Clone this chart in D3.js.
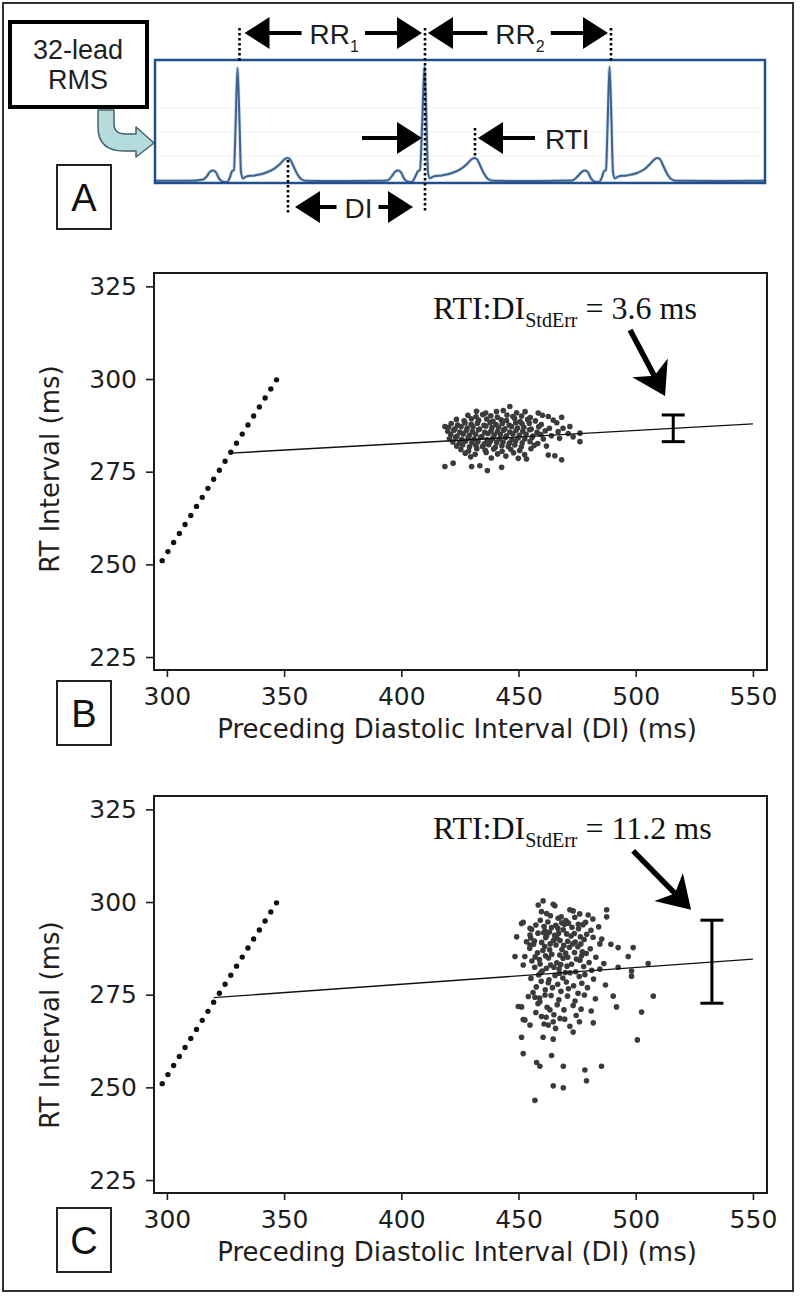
<!DOCTYPE html>
<html>
<head>
<meta charset="utf-8">
<script src="https://d3js.org/d3.v7.min.js"></script>
<style>
  body { margin: 0; background: #fff; }
  svg { display: block; }
</style>
</head>
<body>
<script>
// ---------- data ----------
// panel A: 32-lead RMS trace (time in ms, amplitude normalised)
var ecgTime = [0, 140, 192, 208, 220, 232, 244, 256, 268, 288, 300, 308, 316, 322, 330, 338, 344, 352, 364, 400, 440, 476, 500, 516, 528, 540, 552, 568, 584, 604, 700, 900,
  932, 948, 960, 972, 984, 996, 1008, 1028, 1040, 1052, 1060, 1068, 1078, 1086, 1092, 1100, 1112, 1148, 1188, 1224, 1248, 1264, 1276, 1288, 1300, 1316, 1332, 1352, 1540,
  1668, 1692, 1708, 1720, 1732, 1744, 1756, 1776, 1788, 1796, 1804, 1810, 1818, 1826, 1832, 1840, 1852, 1888, 1928, 1960, 1980, 1996, 2008, 2020, 2032, 2048, 2064, 2088, 2260, 2440];
var ecgAmp = [0.01, 0.01, 0.02, 0.05, 0.085, 0.095, 0.08, 0.03, 0.005, 0.0, 0.04, 0.09, 0.1, 0.45, 0.95, 0.5, 0.08, 0.03, 0.045, 0.055, 0.075, 0.11, 0.15, 0.185, 0.2, 0.19, 0.14, 0.07, 0.025, 0.01, 0.008, 0.01,
  0.015, 0.05, 0.085, 0.095, 0.08, 0.03, 0.005, 0.0, 0.04, 0.09, 0.1, 0.45, 0.96, 0.5, 0.08, 0.03, 0.045, 0.055, 0.075, 0.11, 0.15, 0.185, 0.2, 0.19, 0.14, 0.07, 0.025, 0.01, 0.008,
  0.012, 0.05, 0.085, 0.095, 0.08, 0.03, 0.005, 0.0, 0.04, 0.09, 0.1, 0.45, 0.96, 0.5, 0.08, 0.03, 0.045, 0.055, 0.075, 0.11, 0.15, 0.185, 0.2, 0.19, 0.14, 0.07, 0.025, 0.01, 0.008, 0.01];
var rPeakTimes = [338, 1080, 1824];
var tPeakTimes = [532, 1280];

// panels B and C: axes
var xTicks = [300, 350, 400, 450, 500, 550];
var yTicks = [225, 250, 275, 300, 325];

// dotted reference line (same in B and C)
var refDI = [298, 347];
var refRT = [251, 300];

// regression lines
var regDI_B = [327, 550];
var regRT_B = [280.0, 287.9];
var regDI_C = [320, 550];
var regRT_C = [274.2, 284.6];

// standard error bars: [DI, RT centre, stderr]
var errB = [516, 286.7, 3.6];
var errC = [532.5, 283.9, 11.2];

// beats of panel B (DI, RT)
var scatterB = [
  [418.6,287.2],[418.6,276.4],[422.1,277.3],[430.0,276.4],[433.5,276.6],[436.7,275.3],[442.8,276.2],[446.3,292.6],[440.6,291.2],[449.9,278.6],[453.4,278.4],[462.7,279.5],[465.5,279.3],[468.4,278.2],[458.4,290.8],[462.7,289.9],[468.4,289.7],[469.0,286.7],[471.9,287.2],[476.2,285.4],[476.2,283.1],[471.2,285.3],[473.3,284.4],
  [432.1,291.3],[436.0,290.8],[443.5,291.5],[449.2,290.9],[452.8,291.2],
  [428.4,290.2],[431.9,289.8],[434.7,290.4],[438.2,290.1],[441.0,289.7],[445.1,290.3],[447.6,289.9],[451.3,290.0],[455.0,289.6],[460.2,290.2],
  [423.5,289.1],[426.8,288.7],[429.9,289.3],[433.0,288.9],[436.4,289.2],[439.1,288.6],[442.6,289.0],[444.9,288.8],[448.3,289.4],[450.7,288.5],[453.9,289.1],[457.2,288.7],[464.8,288.9],
  [421.3,288.0],[424.0,287.6],[427.2,288.2],[429.8,287.8],[432.5,288.1],[435.3,287.5],[437.9,288.3],[440.4,287.7],[443.1,288.0],[446.0,287.6],[448.8,288.2],[451.5,287.9],[454.6,288.1],[459.7,287.7],[466.3,288.2],
  [420.2,287.0],[422.9,286.6],[425.5,287.2],[428.1,286.8],[430.6,287.1],[433.4,286.5],[436.1,287.3],[438.7,286.9],[441.5,287.0],[444.2,286.6],[447.0,287.2],[449.6,286.8],[452.3,287.0],[455.4,286.5],[458.6,287.1],[463.2,286.7],
  [419.8,285.9],[422.4,286.2],[425.0,285.7],[427.7,286.1],[430.3,285.8],[432.9,286.3],[435.6,285.6],[438.3,286.0],[441.0,285.8],[443.6,286.2],[446.3,285.7],[448.9,286.1],[451.8,285.9],[454.7,286.3],[457.9,285.6],[461.4,286.0],[466.9,285.8],
  [421.1,285.0],[423.8,284.6],[426.4,285.2],[429.0,284.8],[431.7,285.1],[434.3,284.5],[437.0,285.3],[439.6,284.9],[442.3,285.0],[444.9,284.7],[447.6,285.2],[450.4,284.8],[453.2,285.1],[456.1,284.6],[459.5,285.0],[464.0,284.7],
  [420.5,283.9],[423.1,284.2],[425.8,283.7],[428.5,284.1],[431.0,283.8],[433.8,284.3],[436.5,283.6],[439.0,284.0],[441.8,283.8],[444.5,284.2],[447.2,283.7],[449.8,284.1],[452.7,283.9],[455.8,284.2],[460.6,283.8],[467.5,284.0],
  [422.0,283.0],[424.7,282.6],[427.4,283.2],[430.1,282.8],[432.7,283.1],[435.4,282.5],[438.1,283.3],[440.7,282.9],[443.4,283.0],[446.1,282.7],[448.7,283.2],[451.6,282.8],[454.9,283.1],[458.2,282.6],
  [423.6,281.9],[426.2,282.2],[429.1,281.7],[431.8,282.1],[434.6,281.8],[437.3,282.3],[440.1,281.6],[442.9,282.0],[445.6,281.8],[448.4,282.2],[451.2,281.7],[456.7,282.1],[461.9,281.9],
  [425.4,281.0],[428.7,280.6],[432.2,281.2],[435.8,280.8],[439.4,281.1],[443.0,280.5],[446.7,281.0],[450.5,280.7],[455.3,281.2],
  [427.3,280.0],[431.5,279.7],[436.2,280.2],[441.1,279.8],[447.9,280.1],[452.6,279.6],
  [429.6,279.0],[438.4,278.7],[444.6,279.2]
];

// beats of panel C (DI, RT)
var scatterC = [
  [460.5,300.3],[464.8,299.4],[459.8,297.4],[462.0,296.9],[471.9,297.9],[473.3,297.6],[479.7,296.5],[487.6,297.9],[487.6,296.0],[452.0,294.5],[449.2,290.6],[448.5,285.3],[484.7,288.7],[492.5,287.7],[498.9,287.7],[496.8,285.3],[492.5,282.4],[498.2,281.4],[498.2,280.0],[505.3,283.4],[507.5,274.6],[502.5,270.3],[500.7,262.8],[490.4,274.6],[491.8,271.7],[481.9,267.4],[473.3,264.9],[451.3,271.7],[452.0,268.3],[451.3,263.5],[452.0,259.1],[457.7,256.7],[459.1,255.7],[464.1,258.6],[469.1,255.7],[464.8,250.4],[469.1,249.9],[478.3,254.7],[479.0,251.8],[485.4,255.7],[457.0,246.5],[460.5,263.5],[464.8,263.0],
  [458.4,299.2],[465.5,299.0],[451.3,294.2],[454.9,292.9],[453.4,289.3],[454.9,291.1],[468.4,294.4],[475.5,294.0],[452.7,285.3],[452.0,283.0],[454.9,288.4],[454.2,274.5],[457.0,274.3],[459.1,273.1],[449.9,271.8],[461.3,274.9],[452.7,268.2],[454.9,266.8],[459.8,269.1],[463.4,270.9],[464.8,267.7],[467.7,268.6],[462.7,266.8],
  [466.9,295.6],[471.3,294.3],[474.0,295.9],[478.6,294.5],[481.7,295.4],
  [457.4,293.8],[462.5,294.6],[464.1,293.1],[469.6,294.0],[472.8,293.2],[477.5,293.9],[480.9,292.4],
  [455.6,292.6],[460.9,293.4],[463.2,291.9],[466.8,292.9],[470.5,291.4],[475.6,292.8],[479.1,291.3],[484.2,293.3],
  [458.3,291.6],[461.6,290.4],[465.4,291.0],[467.7,289.6],[472.4,290.8],[474.2,289.2],[478.0,289.9],
  [455.2,290.3],[459.9,289.1],[462.0,290.9],[467.1,291.6],[469.3,288.3],[473.8,291.5],[476.6,288.7],[481.8,290.5],[485.5,290.0],
  [456.4,288.6],[461.2,288.0],[464.9,289.6],[468.5,287.2],[471.0,289.4],[475.3,287.9],[477.2,286.6],
  [454.8,287.5],[458.1,286.3],[463.3,287.1],[466.0,288.4],[470.1,286.2],[473.1,288.7],[476.9,285.5],[480.6,287.4],[489.4,288.6],
  [457.1,285.2],[460.4,286.9],[462.8,284.9],[467.6,285.7],[471.7,287.8],[474.7,284.6],[478.9,286.1],[483.0,285.1],
  [455.7,284.1],[459.2,283.3],[464.2,285.9],[466.3,283.6],[469.0,284.8],[472.6,283.2],[476.2,284.3],[480.1,283.7],
  [456.9,282.4],[460.1,281.4],[463.7,283.0],[467.3,281.9],[470.7,282.7],[474.4,281.2],[477.8,282.6],[481.2,281.6],[486.4,283.4],
  [458.6,280.3],[461.9,282.1],[465.6,280.2],[468.9,279.5],[472.0,280.9],[475.9,279.9],[478.3,280.4],[484.7,281.9],
  [455.3,279.4],[459.7,278.6],[463.0,279.0],[466.7,277.8],[470.4,278.4],[473.5,277.4],[477.0,278.1],[482.0,279.2],
  [457.6,277.1],[461.4,276.3],[464.5,276.9],[468.1,275.9],[471.3,276.6],[475.4,275.4],[479.4,276.9],[487.1,277.6],
  [456.2,275.6],[459.0,274.1],[463.9,274.8],[467.2,273.6],[470.9,274.6],[474.1,273.3],[478.1,274.9],[482.8,273.9],
  [458.3,272.6],[462.2,271.6],[466.5,272.3],[469.4,270.9],[473.3,272.1],[476.7,271.1],[481.0,270.6],
  [457.4,270.2],[461.8,268.9],[465.1,269.6],[469.7,268.4],[474.6,269.4],
  [460.9,267.1],[465.8,265.9],[471.9,266.5],[476.0,267.7],
  [459.3,295.1],[463.6,296.3],[468.2,296.0],[470.2,295.0],[476.1,296.8],[461.3,292.2],[465.9,293.7],[469.1,292.5],[456.8,289.5],[460.7,291.7],[463.5,288.7],[466.4,290.2],
  [458.9,284.5],[461.5,285.5],[465.1,282.4],[468.0,283.1],[471.0,285.1],[459.5,280.9],[462.7,278.2],[467.5,280.8],[470.0,281.0],[473.9,286.4],[476.4,290.6]
];

// ---------- drawing ----------
var w = 800, h = 1296;
var svg = d3.select("body").append("svg")
  .attr("width", w)
  .attr("height", h);

var sans = "'DejaVu Sans', Verdana, sans-serif";
var arial = "'Liberation Sans', Arial, sans-serif";
var serif = "'Liberation Serif', 'Times New Roman', serif";
var ink = "#1e1e1e";

// outer border
svg.append("rect")
  .attr("x", 3).attr("y", 3)
  .attr("width", 790).attr("height", 1288)
  .attr("fill", "none").attr("stroke", "#333").attr("stroke-width", 2);

// filled horizontal arrow: line from x0 to x1, head at x1
function hArrow(g, x0, x1, y) {
  var s = x1 > x0 ? 1 : -1, L = 25, H = 16;
  g.append("line")
    .attr("x1", x0).attr("x2", x1 - s * (L - 2))
    .attr("y1", y).attr("y2", y)
    .attr("stroke", "#000").attr("stroke-width", 4);
  g.append("path")
    .attr("d", "M" + x1 + "," + y + "L" + (x1 - s * L) + "," + (y - H) + "L" + (x1 - s * L) + "," + (y + H) + "Z")
    .attr("fill", "#000");
}

// ---------- panel A ----------
var gA = svg.append("g");
var xT = d3.scaleLinear().domain([0, 2440]).range([155, 765]);
var yV = d3.scaleLinear().domain([0, 1]).range([182, 62]);

// faint grid inside frame
[108, 132, 156].forEach(function (gy) {
  gA.append("line").attr("x1", 157).attr("x2", 763).attr("y1", gy).attr("y2", gy)
    .attr("stroke", "#eef1f5").attr("stroke-width", 1);
});

var ecgLine = d3.line()
  .x(function (d, i) { return xT(ecgTime[i]); })
  .y(function (d) { return yV(d); })
  .curve(d3.curveMonotoneX);

gA.append("path")
  .datum(ecgAmp)
  .attr("d", ecgLine)
  .attr("fill", "none")
  .attr("stroke", "#9fb6cc").attr("stroke-width", 3.5).attr("opacity", 0.5);
gA.append("path")
  .datum(ecgAmp)
  .attr("d", ecgLine)
  .attr("fill", "none")
  .attr("stroke", "#3c648e").attr("stroke-width", 2);

gA.append("rect")
  .attr("x", 155).attr("y", 60)
  .attr("width", 610).attr("height", 123)
  .attr("fill", "none").attr("stroke", "#1f4f8f").attr("stroke-width", 2.5);

// dotted markers
function vDots(x, y0, y1) {
  gA.append("line")
    .attr("x1", x).attr("x2", x).attr("y1", y0).attr("y2", y1)
    .attr("stroke", "#000").attr("stroke-width", 2.6)
    .attr("stroke-dasharray", "2.6 2.4");
}
vDots(xT(rPeakTimes[0]), 28, 63);
vDots(xT(rPeakTimes[1]), 28, 213);
vDots(xT(rPeakTimes[2]), 28, 63);
vDots(xT(tPeakTimes[0]), 160, 213);
vDots(xT(tPeakTimes[1]), 128, 157);

// labelled span with arrows pointing out to both markers
function span(xa, xb, y, label, sub, inA, inB) {
  var t = gA.append("text")
    .attr("x", (xa + xb) / 2 + 2).attr("y", y + 11)
    .attr("text-anchor", "middle")
    .attr("font-family", arial).attr("font-size", 28).attr("fill", ink)
    .text(label);
  if (sub) {
    t.append("tspan").attr("font-size", 16).attr("dy", 8).text(sub);
  }
  var bb = t.node().getBBox();
  hArrow(gA, bb.x - 8, xa + inA, y);
  hArrow(gA, bb.x + bb.width + 6, xb - inB, y);
}
span(xT(rPeakTimes[0]), xT(rPeakTimes[1]), 33, "RR", "1", 5, 3);
span(xT(rPeakTimes[1]), xT(rPeakTimes[2]), 33, "RR", "2", 3, 3);
span(xT(tPeakTimes[0]), xT(rPeakTimes[1]), 207, "DI", null, 7, 12);

// RTI arrows
hArrow(gA, xT(rPeakTimes[1]) - 63, xT(rPeakTimes[1]) - 3, 138);
hArrow(gA, xT(tPeakTimes[1]) + 60, xT(tPeakTimes[1]) + 3, 138);
gA.append("text")
  .attr("x", xT(tPeakTimes[1]) + 70).attr("y", 149)
  .attr("font-family", arial).attr("font-size", 28).attr("fill", ink)
  .text("RTI");

// 32-lead RMS box and curved arrow
gA.append("rect")
  .attr("x", 10).attr("y", 22).attr("width", 137).attr("height", 85)
  .attr("fill", "#fff").attr("stroke", "#000").attr("stroke-width", 4);
gA.append("text").attr("x", 78).attr("y", 59)
  .attr("text-anchor", "middle").attr("font-family", arial).attr("font-size", 27).attr("fill", ink)
  .text("32-lead");
gA.append("text").attr("x", 78).attr("y", 89)
  .attr("text-anchor", "middle").attr("font-family", arial).attr("font-size", 27).attr("fill", ink)
  .text("RMS");
gA.append("path")
  .attr("d", "M98,110 L114,110 L114,124 Q114,134 126,134 L136,134 L136,127 L154,143 L136,157 L136,151 L124,151 Q98,151 98,127 Z")
  .attr("fill", "#b5dcdd").attr("stroke", "#45606e").attr("stroke-width", 1.5)
  .attr("stroke-linejoin", "round");

// panel letter boxes
function letterBox(y, letter) {
  svg.append("rect")
    .attr("x", 57).attr("y", y).attr("width", 54).attr("height", 64)
    .attr("fill", "#fff").attr("stroke", "#222").attr("stroke-width", 2);
  svg.append("text")
    .attr("x", 84).attr("y", y + 46)
    .attr("text-anchor", "middle")
    .attr("font-family", arial).attr("font-size", 38).attr("fill", "#111")
    .text(letter);
}
letterBox(165, "A");
letterBox(681, "B");
letterBox(1208, "C");

// ---------- panels B and C ----------
var xScale = d3.scaleLinear().domain([294.5, 556]).range([154, 767]);

function drawPanel(top, bottom, scatter, regDI, regRT, err, seText, annText, annArrow, yTitleY) {
  var yScale = d3.scaleLinear().domain([221.5, 328.6]).range([bottom, top]);
  var g = svg.append("g");

  // axes
  var xAxis = d3.axisBottom(xScale).tickValues(xTicks).tickSize(7).tickPadding(10);
  var yAxis = d3.axisLeft(yScale).tickValues(yTicks).tickSize(8).tickPadding(9);

  var gx = g.append("g")
    .attr("transform", "translate(0," + bottom + ")")
    .call(xAxis);
  var gy = g.append("g")
    .attr("transform", "translate(154,0)")
    .call(yAxis);
  [gx, gy].forEach(function (a) {
    a.select(".domain").remove();
    a.selectAll("line").attr("stroke", ink).attr("stroke-width", 1.6);
    a.selectAll("text")
      .attr("font-family", sans).attr("font-size", 25).attr("fill", ink);
  });

  // axis titles
  g.append("text")
    .attr("x", 457).attr("y", bottom + 68)
    .attr("text-anchor", "middle")
    .attr("font-family", sans).attr("font-size", 26).attr("fill", ink)
    .text("Preceding Diastolic Interval (DI) (ms)");
  g.append("text")
    .attr("transform", "translate(59," + yTitleY + ") rotate(-90)")
    .attr("text-anchor", "middle")
    .attr("font-family", sans).attr("font-size", 26).attr("fill", ink)
    .text("RT Interval (ms)");

  // beats
  g.selectAll("circle.beat")
    .data(scatter)
    .enter()
    .append("circle")
    .attr("class", "beat")
    .attr("cx", function (d) { return xScale(d[0]); })
    .attr("cy", function (d) { return yScale(d[1]); })
    .attr("r", 2.8)
    .attr("fill", "#3b3b3b");

  // dotted reference line, spacing fitted so a dot sits on each end
  var rx0 = xScale(refDI[0]), ry0 = yScale(refRT[0]);
  var rx1 = xScale(refDI[1]), ry1 = yScale(refRT[1]);
  var rlen = Math.sqrt((rx1 - rx0) * (rx1 - rx0) + (ry1 - ry0) * (ry1 - ry0));
  var gap = rlen / Math.round(rlen / 10.8) - 0.05;
  g.append("line")
    .attr("x1", rx0).attr("y1", ry0)
    .attr("x2", rx1).attr("y2", ry1)
    .attr("stroke", "#111").attr("stroke-width", 5.4)
    .attr("stroke-linecap", "round")
    .attr("stroke-dasharray", "0 " + gap);

  // regression line
  g.append("line")
    .attr("x1", xScale(regDI[0])).attr("y1", yScale(regRT[0]))
    .attr("x2", xScale(regDI[1])).attr("y2", yScale(regRT[1]))
    .attr("stroke", "#111").attr("stroke-width", 1.4);

  // standard error bar
  var ex = xScale(err[0]);
  var e0 = yScale(err[1] - err[2]), e1 = yScale(err[1] + err[2]);
  g.append("line").attr("x1", ex).attr("x2", ex).attr("y1", e0).attr("y2", e1)
    .attr("stroke", "#000").attr("stroke-width", 3);
  [e0, e1].forEach(function (ey) {
    g.append("line").attr("x1", ex - 11.5).attr("x2", ex + 11.5).attr("y1", ey).attr("y2", ey)
      .attr("stroke", "#000").attr("stroke-width", 3);
  });

  // annotation text
  var t = g.append("text")
    .attr("x", xScale(annText[0])).attr("y", yScale(annText[1]))
    .attr("font-family", serif).attr("font-size", 32).attr("fill", "#111")
    .text("RTI:DI");
  t.append("tspan").attr("font-size", 20).attr("dy", 8).text("StdErr");
  t.append("tspan").attr("font-size", 32).attr("dy", -8).text(" = " + seText + " ms");

  // annotation arrow
  var sx = xScale(annArrow[0]), sy = yScale(annArrow[1]);
  var tx = xScale(annArrow[2]), ty = yScale(annArrow[3]);
  var dx = tx - sx, dy = ty - sy, len = Math.sqrt(dx * dx + dy * dy);
  var ux = dx / len, uy = dy / len, nx = -uy, ny = ux;
  var L = 32, W = 20, notch = 9;
  g.append("line")
    .attr("x1", sx).attr("y1", sy)
    .attr("x2", tx - (L - notch) * ux).attr("y2", ty - (L - notch) * uy)
    .attr("stroke", "#000").attr("stroke-width", 5.5);
  g.append("path")
    .attr("d", "M" + tx + "," + ty +
      "L" + (tx - L * ux + W * nx) + "," + (ty - L * uy + W * ny) +
      "L" + (tx - (L - notch) * ux) + "," + (ty - (L - notch) * uy) +
      "L" + (tx - L * ux - W * nx) + "," + (ty - L * uy - W * ny) + "Z")
    .attr("fill", "#000");

  // plot frame
  g.append("rect")
    .attr("x", 154).attr("y", top)
    .attr("width", 767 - 154).attr("height", bottom - top)
    .attr("fill", "none").attr("stroke", "#1a1a1a").attr("stroke-width", 2);
}

// annotation anchors in data units: text [DI, RT], arrow [DI0, RT0, DI1, RT1]
drawPanel(273, 670, scatterB, regDI_B, regRT_B, errB, "3.6",
  [413.5, 316.2], [497.6, 313.2, 512.5, 295.4], 469);
drawPanel(796, 1193, scatterC, regDI_C, regRT_C, errC, "11.2",
  [413.5, 317.0], [498.9, 313.8, 523.6, 297.9], 1025);
</script>
</body>
</html>
